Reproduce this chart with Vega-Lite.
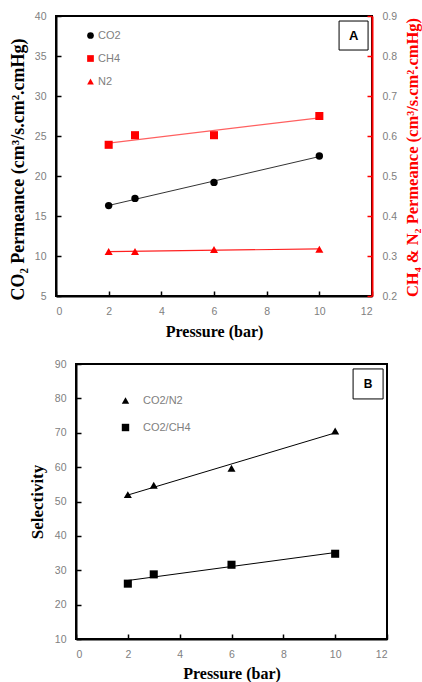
{
  "$schema": "https://vega.github.io/schema/vega-lite/v6.json",
  "background": "white",
  "padding": {"left": 8, "top": 10, "right": 0, "bottom": 0},
  "datasets": {
    "perm": [
      {"p": 2, "gas": "CO2", "v": 16.3},
      {"p": 3, "gas": "CO2", "v": 17.2},
      {"p": 6, "gas": "CO2", "v": 19.2},
      {"p": 10, "gas": "CO2", "v": 22.5},
      {"p": 2, "gas": "CH4", "v": 0.578},
      {"p": 3, "gas": "CH4", "v": 0.602},
      {"p": 6, "gas": "CH4", "v": 0.602},
      {"p": 10, "gas": "CH4", "v": 0.65},
      {"p": 2, "gas": "N2", "v": 0.311},
      {"p": 3, "gas": "N2", "v": 0.311},
      {"p": 6, "gas": "N2", "v": 0.316},
      {"p": 10, "gas": "N2", "v": 0.317}
    ],
    "sel": [
      {"p": 2, "pair": "CO2/N2", "s": 52.0},
      {"p": 3, "pair": "CO2/N2", "s": 54.7},
      {"p": 6, "pair": "CO2/N2", "s": 59.7},
      {"p": 10, "pair": "CO2/N2", "s": 70.5},
      {"p": 2, "pair": "CO2/CH4", "s": 26.1},
      {"p": 3, "pair": "CO2/CH4", "s": 28.8},
      {"p": 6, "pair": "CO2/CH4", "s": 31.6},
      {"p": 10, "pair": "CO2/CH4", "s": 34.8}
    ]
  },
  "config": {
    "font": "Liberation Sans",
    "axis": {
      "grid": false,
      "domainColor": "black",
      "domainWidth": 2,
      "tickColor": "black",
      "tickWidth": 1.5,
      "tickSize": -5,
      "tickCount": 20,
      "labelOverlap": false,
      "labelColor": "#808080",
      "labelFont": "Liberation Sans",
      "labelFontSize": 10.5,
      "labelPadding": 15,
      "titleFont": "Liberation Serif",
      "titleFontSize": 16,
      "titleFontWeight": "bold",
      "titleColor": "black"
    },
    "legend": {
      "labelFont": "Liberation Sans",
      "labelColor": "#808080",
      "labelFontSize": 11,
      "padding": 0
    }
  },
  "spacing": 17,
  "resolve": {"scale": {"color": "independent", "shape": "independent"}},
  "vconcat": [
    {
      "width": 316,
      "height": 280,
      "view": {"stroke": "black", "strokeWidth": 2},
      "data": {"name": "perm"},
      "resolve": {"scale": {"y": "independent"}},
      "layer": [
        {
          "layer": [
            {
              "transform": [{"filter": "datum.gas === 'CO2'"}, {"regression": "v", "on": "p"}],
              "mark": {"type": "line", "color": "#333333", "strokeWidth": 1},
              "encoding": {
                "x": {"field": "p", "type": "quantitative", "scale": {"domain": [0, 12]},
                  "axis": {"title": "Pressure (bar)", "values": [0, 2, 4, 6, 8, 10, 12], "format": "d", "tickCount": 20, "titlePadding": 7, "labelOverlap": false}},
                "y": {"field": "v", "type": "quantitative", "scale": {"domain": [5, 40]},
                  "axis": {"orient": "left", "title": "CO₂ Permeance  (cm³/s.cm².cmHg)", "titleFontSize": 18, "values": [5, 10, 15, 20, 25, 30, 35, 40], "format": "d", "tickCount": 20, "labelOverlap": false, "titlePadding": 7, "titleY": 153}}
              }
            },
            {
              "transform": [{"filter": "datum.gas === 'CO2'"}],
              "mark": {"type": "point", "filled": true, "size": 55, "opacity": 1},
              "encoding": {
                "x": {"field": "p", "type": "quantitative"},
                "y": {"field": "v", "type": "quantitative"},
                "color": {"field": "gas", "type": "nominal",
                  "scale": {"domain": ["CO2", "CH4", "N2"], "range": ["black", "red", "red"]},
                  "legend": {"orient": "none", "legendX": 29, "legendY": 14, "title": null, "symbolSize": 45, "rowPadding": 11, "labelOffset": 2}},
                "shape": {"field": "gas", "type": "nominal",
                  "scale": {"domain": ["CO2", "CH4", "N2"], "range": ["circle", "square", "triangle-up"]},
                  "legend": {"orient": "none", "legendX": 29, "legendY": 14, "title": null, "symbolSize": 45, "rowPadding": 11, "labelOffset": 2}}
              }
            },
            {
              "data": {"values": [{}]},
              "mark": {"type": "point", "shape": "square", "size": 841, "filled": true, "fill": "white", "stroke": "black", "strokeWidth": 1, "opacity": 1},
              "encoding": {
                "x": {"datum": 11.3, "type": "quantitative"},
                "y": {"datum": 37.56, "type": "quantitative"}
              }
            },
            {
              "data": {"values": [{}]},
              "mark": {"type": "text", "text": "A", "fontWeight": "bold", "fontSize": 13, "font": "Liberation Sans", "color": "black"},
              "encoding": {
                "x": {"datum": 11.3, "type": "quantitative"},
                "y": {"datum": 37.56, "type": "quantitative"}
              }
            }
          ]
        },
        {
          "layer": [
            {
              "transform": [{"filter": "datum.gas === 'CH4'"}, {"regression": "v", "on": "p"}],
              "mark": {"type": "line", "color": "#ff6060", "strokeWidth": 1.2},
              "encoding": {
                "x": {"field": "p", "type": "quantitative"},
                "y": {"field": "v", "type": "quantitative", "scale": {"domain": [0.2, 0.9]},
                  "axis": {"orient": "right", "title": "CH₄ & N₂ Permeance  (cm³/s.cm².cmHg)", "titleFontSize": 16.5, "titleY": 141, "titleAngle": 270, "titleBaseline": "top", "titleColor": "red", "domainColor": "red", "tickColor": "red", "values": [0.2, 0.3, 0.4, 0.5, 0.6, 0.7, 0.8, 0.9], "tickCount": 20, "labelOverlap": false, "format": ".1f", "titlePadding": 8}}
              }
            },
            {
              "transform": [{"filter": "datum.gas === 'N2'"}, {"regression": "v", "on": "p"}],
              "mark": {"type": "line", "color": "#ff2020", "strokeWidth": 1.2},
              "encoding": {
                "x": {"field": "p", "type": "quantitative"},
                "y": {"field": "v", "type": "quantitative"}
              }
            },
            {
              "transform": [{"filter": "datum.gas !== 'CO2'"}],
              "mark": {"type": "point", "filled": true, "size": 65, "opacity": 1},
              "encoding": {
                "x": {"field": "p", "type": "quantitative"},
                "y": {"field": "v", "type": "quantitative"},
                "color": {"field": "gas", "type": "nominal"},
                "shape": {"field": "gas", "type": "nominal"}
              }
            }
          ]
        }
      ]
    },
    {
      "spacing": 0,
      "bounds": "flush",
      "hconcat": [
        {
          "width": 20,
          "height": 275,
          "view": {"stroke": null},
          "data": {"values": []},
          "mark": "point"
        },
        {
          "width": 311,
          "height": 275,
          "view": {"stroke": "black", "strokeWidth": 2},
          "data": {"name": "sel"},
          "layer": [
            {
              "transform": [{"regression": "s", "on": "p", "groupby": ["pair"]}],
              "mark": {"type": "line", "color": "black", "strokeWidth": 1},
              "encoding": {
                "x": {"field": "p", "type": "quantitative", "scale": {"domain": [0, 12]},
                  "axis": {"title": "Pressure (bar)", "values": [0, 2, 4, 6, 8, 10, 12], "format": "d", "tickCount": 20, "labelOverlap": false, "titlePadding": 6}},
                "y": {"field": "s", "type": "quantitative", "scale": {"domain": [10, 90]},
                  "axis": {"title": "Selectivity", "titleFontSize": 17, "values": [10, 20, 30, 40, 50, 60, 70, 80, 90], "format": "d", "tickCount": 20, "labelOverlap": false, "titlePadding": 8}},
                "detail": {"field": "pair", "type": "nominal"}
              }
            },
            {
              "mark": {"type": "point", "filled": true, "size": 65, "opacity": 1, "color": "black"},
              "encoding": {
                "x": {"field": "p", "type": "quantitative"},
                "y": {"field": "s", "type": "quantitative"},
                "shape": {"field": "pair", "type": "nominal",
                  "scale": {"domain": ["CO2/N2", "CO2/CH4"], "range": ["triangle-up", "square"]},
                  "legend": {"orient": "none", "legendX": 64, "legendY": 31, "title": null, "symbolSize": 55, "rowPadding": 13, "labelOffset": 12, "symbolFillColor": "black", "symbolStrokeColor": "black"}}
              }
            },
            {
              "data": {"values": [{}]},
              "mark": {"type": "point", "shape": "square", "size": 900, "filled": true, "fill": "white", "stroke": "black", "strokeWidth": 1, "opacity": 1},
              "encoding": {
                "x": {"datum": 11.27, "type": "quantitative"},
                "y": {"datum": 84.2, "type": "quantitative"}
              }
            },
            {
              "data": {"values": [{}]},
              "mark": {"type": "text", "text": "B", "fontWeight": "bold", "fontSize": 12, "font": "Liberation Sans", "color": "black"},
              "encoding": {
                "x": {"datum": 11.27, "type": "quantitative"},
                "y": {"datum": 84.2, "type": "quantitative"}
              }
            }
          ]
        }
      ]
    }
  ]
}
